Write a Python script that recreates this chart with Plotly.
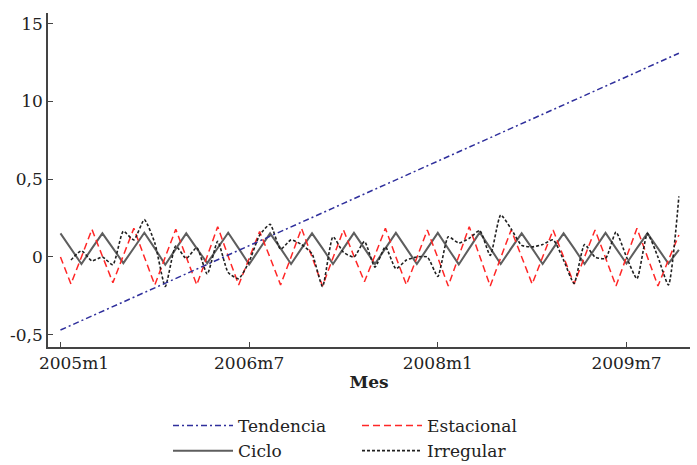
import plotly.graph_objects as go

# Months 2005m1 .. 2009m12
months = [f"{y}m{m}" for y in range(2005, 2010) for m in range(1, 13)]

tendencia = [-0.470, -0.440, -0.410, -0.379, -0.349, -0.319, -0.289, -0.259, -0.229, -0.198,
             -0.168, -0.138, -0.108, -0.078, -0.048, -0.017, 0.013, 0.043, 0.073, 0.103,
             0.133, 0.164, 0.194, 0.224, 0.254, 0.284, 0.314, 0.345, 0.375, 0.405,
             0.435, 0.465, 0.495, 0.526, 0.556, 0.586, 0.616, 0.646, 0.676, 0.707,
             0.737, 0.767, 0.797, 0.827, 0.857, 0.888, 0.918, 0.948, 0.978, 1.008,
             1.039, 1.069, 1.099, 1.129, 1.159, 1.189, 1.220, 1.250, 1.280, 1.310]

estacional = [0.0, -0.174, 0.0, 0.178, 0.005, -0.165, 0.01, 0.184, 0.0, -0.18,
              0.0, 0.178, 0.0, -0.18, 0.005, 0.195, 0.005, -0.18, -0.01, 0.163,
              -0.005, -0.18, 0.0, 0.184, 0.0, -0.187, -0.005, 0.174, 0.005, -0.159,
              0.01, 0.184, 0.0, -0.18, -0.005, 0.174, -0.005, -0.187, 0.005, 0.195,
              0.005, -0.187, -0.005, 0.174, 0.0, -0.174, 0.0, 0.174, 0.0, -0.174,
              0.0, 0.174, -0.005, -0.187, 0.0, 0.184, 0.0, -0.187, -0.02, 0.141]

ciclo = [0.152, 0.055, -0.045, 0.055, 0.152, 0.057, -0.040, 0.058, 0.156, 0.055,
         -0.050, 0.052, 0.152, 0.055, -0.040, 0.058, 0.156, 0.055, -0.048, 0.053,
         0.152, 0.055, -0.045, 0.055, 0.152, 0.055, -0.045, 0.055, 0.155, 0.055,
         -0.045, 0.055, 0.155, 0.055, -0.045, 0.055, 0.155, 0.053, -0.048, 0.055,
         0.158, 0.057, -0.045, 0.055, 0.152, 0.055, -0.045, 0.055, 0.152, 0.055,
         -0.045, 0.055, 0.155, 0.055, -0.042, 0.057, 0.152, 0.055, -0.042, 0.045]

irregular = [None, -0.02, 0.04, -0.025, 0.0, -0.05, 0.165, 0.11, 0.24, 0.09,
             -0.19, 0.07, -0.01, 0.06, -0.11, 0.10, -0.10, -0.14, -0.03, 0.14,
             0.21, 0.05, 0.11, 0.08, 0.02, -0.19, 0.13, 0.03, 0.0, 0.10,
             -0.065, 0.065, -0.075, -0.02, 0.0, 0.0, -0.125, 0.13, 0.09, 0.12,
             0.17, 0.01, 0.27, 0.18, 0.075, 0.065, 0.08, 0.11, -0.02, -0.17,
             0.08, 0.0, -0.01, 0.16, 0.0, -0.14, 0.15, 0.0, -0.18, 0.39]

x_tickvals = ["2005m1", "2006m7", "2008m1", "2009m7"]
x_ticktext = ["\u00a0\u00a0\u00a0\u00a0\u00a02005m1", "2006m7", "2008m1", "2009m7"]
y_tickvals = [-0.5, 0, 0.5, 1.0, 1.5]
y_ticktext = ["-0,5", "0", "0,5", "10", "15"]

FONT = "DejaVu Serif"

fig = go.Figure()
fig.add_trace(go.Scatter(x=months, y=ciclo, name="Ciclo", mode="lines",
                         line=dict(color="#5e5e5e", width=2), legend="legend"))
fig.add_trace(go.Scatter(x=months, y=estacional, name="Estacional", mode="lines",
                         line=dict(color="#ff2626", width=1.5, dash="7px,4px"), legend="legend2"))
fig.add_trace(go.Scatter(x=months, y=irregular, name="Irregular", mode="lines",
                         line=dict(color="#202020", width=1.6, dash="3px,2px", shape="spline", smoothing=0.55),
                         legend="legend2"))
fig.add_trace(go.Scatter(x=months, y=tendencia, name="Tendencia", mode="lines",
                         line=dict(color="#2f2f9c", width=1.5, dash="6px,3px,2px,3px"), legend="legend"))

leg_y = (465 - 408) / 465

fig.update_layout(
    width=697, height=465,
    margin=dict(l=48, r=7, t=13, b=118, autoexpand=False),
    paper_bgcolor="white", plot_bgcolor="white",
    font=dict(family=FONT, size=17, color="#222222"),
    showlegend=True,
    legend=dict(x=168 / 697, y=leg_y, xref="container", yref="container",
                xanchor="left", yanchor="top", orientation="v", itemwidth=60,
                traceorder="reversed", font=dict(family=FONT, size=17, color="#222222"),
                bgcolor="rgba(0,0,0,0)", tracegroupgap=0),
    legend2=dict(x=357 / 697, y=leg_y, xref="container", yref="container",
                 xanchor="left", yanchor="top", orientation="v", itemwidth=60,
                 traceorder="normal", font=dict(family=FONT, size=17, color="#222222"),
                 bgcolor="rgba(0,0,0,0)", tracegroupgap=0),
    xaxis=dict(
        type="category", range=[-1.19, 60.06],
        tickmode="array", tickvals=x_tickvals, ticktext=x_ticktext,
        ticks="inside", ticklen=5, tickwidth=1, tickcolor="#444444",
        showline=True, linecolor="#444444", linewidth=1.5,
        showgrid=False, zeroline=False,
        title=dict(text="<b>Mes</b>", font=dict(family=FONT, size=17), standoff=4),
    ),
    yaxis=dict(
        range=[-0.579, 1.569],
        tickmode="array", tickvals=y_tickvals, ticktext=y_ticktext,
        ticks="inside", ticklen=5, tickwidth=1, tickcolor="#444444",
        showline=True, linecolor="#444444", linewidth=1.5,
        showgrid=False, zeroline=False,
    ),
)

fig.write_html("out.html")
